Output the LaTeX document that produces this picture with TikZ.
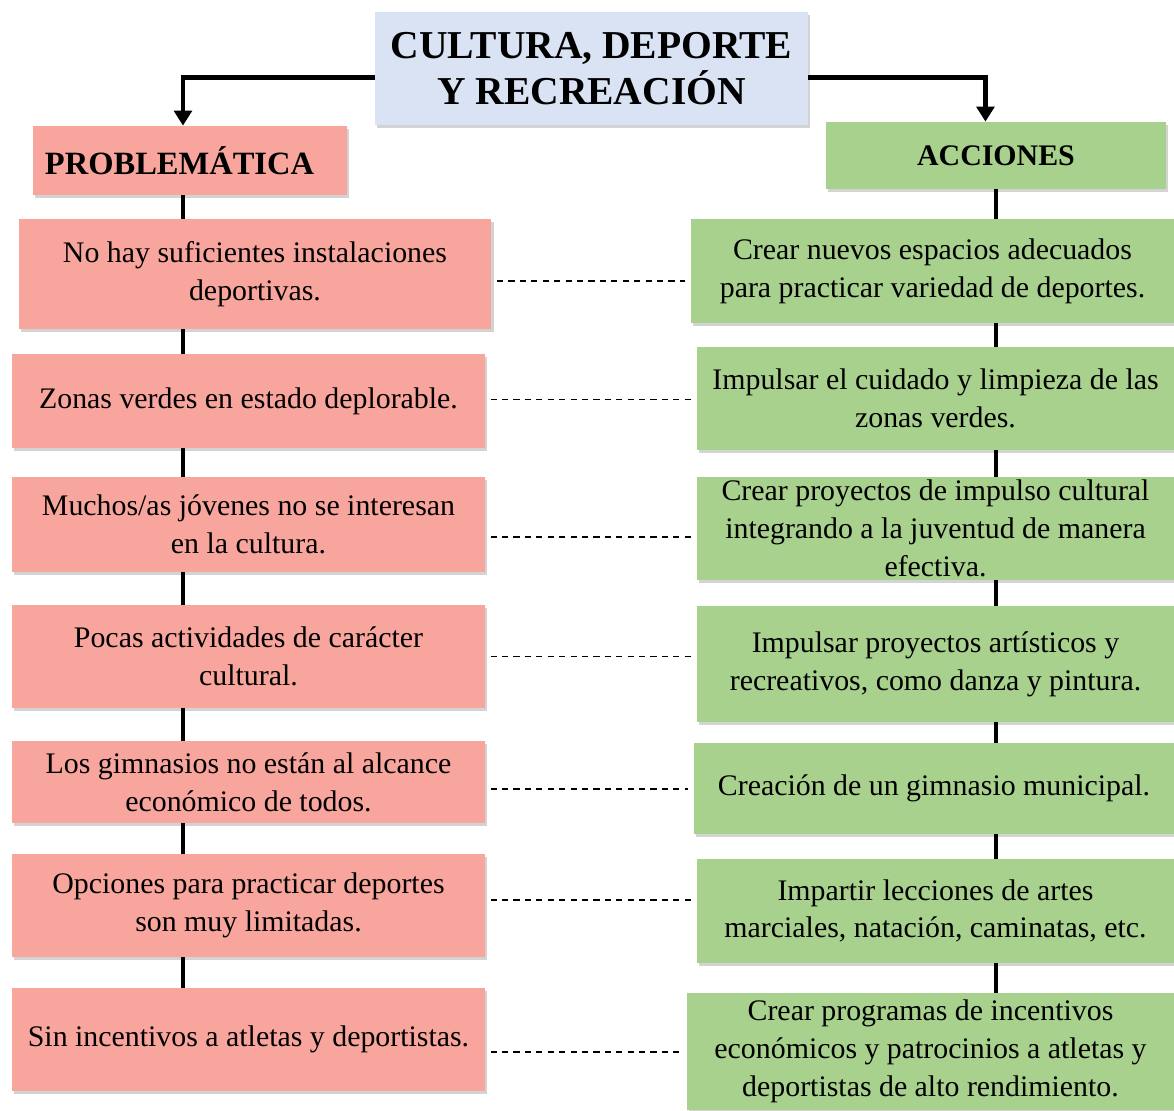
\documentclass[tikz,border=0pt]{standalone}
\usepackage{fontspec}
\setmainfont{Liberation Serif}
\usetikzlibrary{arrows.meta,shadows}
\definecolor{titlefill}{HTML}{DAE3F3}
\definecolor{probfill}{HTML}{F8A59D}
\definecolor{accfill}{HTML}{A9D18E}

\begin{document}
\begin{tikzpicture}[x=0.02cm, y=-0.02cm,
  box/.style={inner xsep=2pt, inner ysep=0pt, align=center, font=\fontsize{17}{21.5}\selectfont,
    drop shadow={opacity=0.35, shadow xshift=1.2pt, shadow yshift=-1.6pt}},
  probbox/.style={box, fill=probfill, minimum width=9.46cm},
  accbox/.style={box, fill=accfill, minimum width=9.54cm},
  headbox/.style={box, font=\bfseries\fontsize{18.5}{22}\selectfont},
  spine/.style={line width=2.4pt},
  arrow/.style={-{Triangle[length=8.5pt,width=10pt]}, line width=2.8pt},
  link/.style={dash pattern=on 3.5pt off 3pt, line width=0.85pt, shorten <=3pt, shorten >=3pt}
]
  \useasboundingbox (0,0) rectangle (1174,1110);

  \node[box, fill=titlefill, minimum width=8.66cm, minimum height=2.26cm,
    font=\bfseries\fontsize{22.5}{26.6}\selectfont] (titulo) at (591.5,68.5) {CULTURA, DEPORTE\\Y RECREACIÓN};
  \node[headbox, fill=probfill, inner xsep=6.8pt, text width=6.28cm-13.6pt, align=left,
    minimum height=1.38cm] (probl) at (190,160.5) {PROBLEMÁTICA};
  \node[headbox, fill=accfill, minimum width=6.8cm, minimum height=1.34cm,
    font=\bfseries\fontsize{17}{20}\selectfont] (accion) at (996,155.5) {ACCIONES};

  \node[probbox, minimum height=2.2cm] (p1) at (255,274) {No hay suficientes instalaciones\\deportivas.};
  \node[probbox, minimum height=1.88cm] (p2) at (248.5,401) {Zonas verdes en estado deplorable.};
  \node[probbox, minimum height=1.9cm] (p3) at (248.5,524.5) {Muchos/as jóvenes no se interesan\\en la cultura.};
  \node[probbox, minimum height=2.06cm] (p4) at (248.5,656.5) {Pocas actividades de carácter\\cultural.};
  \node[probbox, minimum height=1.64cm] (p5) at (248.5,782) {Los gimnasios no están al alcance\\económico de todos.};
  \node[probbox, minimum height=2.06cm] (p6) at (248.5,905.5) {Opciones para practicar deportes\\son muy limitadas.};
  \node[probbox, minimum height=2.06cm] (p7) at (248.5,1039.5) {Sin incentivos a atletas y deportistas.};

  \node[accbox, minimum width=9.66cm, minimum height=2.08cm] (a1) at (932.5,271) {Crear nuevos espacios adecuados\\para practicar variedad de deportes.};
  \node[accbox, minimum height=2.06cm] (a2) at (935.5,398.5) {Impulsar el cuidado y limpieza de las\\zonas verdes.};
  \node[accbox, minimum height=2.06cm] (a3) at (935.5,528.5) {Crear proyectos de impulso cultural\\integrando a la juventud de manera\\efectiva.};
  \node[accbox, minimum height=2.32cm] (a4) at (935.5,664) {Impulsar proyectos artísticos y\\recreativos, como danza y pintura.};
  \node[accbox, minimum width=9.6cm, minimum height=1.82cm] (a5) at (934,788.5) {Creación de un gimnasio municipal.};
  \node[accbox, minimum height=2.08cm] (a6) at (935.5,911) {Impartir lecciones de artes\\marciales, natación, caminatas, etc.};
  \node[accbox, minimum width=9.74cm, minimum height=2.34cm] (a7) at (930.5,1051.5) {Crear programas de incentivos\\económicos y patrocinios a atletas y\\deportistas de alto rendimiento.};

  \draw[arrow] ([yshift=-5pt]titulo.west) -| ([xshift=-4pt]probl.north);
  \draw[arrow] ([yshift=-5pt]titulo.east) -| ([xshift=-6pt]accion.north);

  \draw[spine] ([xshift=-4pt]probl.south) -- ([xshift=-4pt]probl.south |- p1.north);
  \draw[spine] (accion.south) -- (accion.south |- a1.north);
  \foreach \i [count=\j from 2] in {1,...,6} {
    \draw[spine] ([xshift=-4pt]probl.south |- p\i.south) -- ([xshift=-4pt]probl.south |- p\j.north);
    \draw[spine] (accion.south |- a\i.south) -- (accion.south |- a\j.north);
  }
  \foreach \i/\dy in {1/-4,2/1,3/-7,4/0,5/-4,6/3,7/-7}
    \draw[link] ([yshift=\dy pt]p\i.east) -- ([yshift=\dy pt]a\i.west |- p\i.east);
\end{tikzpicture}
\end{document}
